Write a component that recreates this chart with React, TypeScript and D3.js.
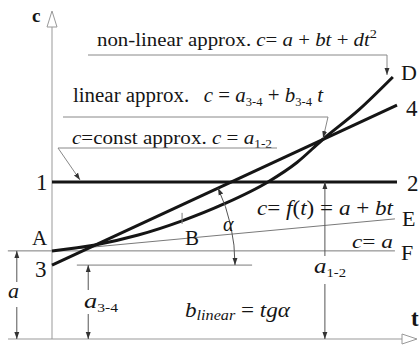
import React from "react";
import * as d3 from "d3";

const W = 419;
const H = 345;

// time axis runs over [0, 10]; concentration over [0, 10]
const tDomain = [0, 10];
const cDomain = [0, 10];

// levels
const levelA = 2.67; // c = a
const level34 = 2.24; // a_3-4
const level12 = 4.76; // a_1-2

// straight approximations, sampled at the ends
const lineT = [0, 10];
const constApprox = [level12, level12]; // c = a_1-2
const linearApprox = [level34, 7.09]; // c = a_3-4 + b_3-4 t
const tangentT = [0, 9.94];
const tangentC = [levelA, 3.64]; // c = f(t) = a + bt
const baseT = [-1.28, 9.94];
const baseC = [levelA, levelA]; // c = a

// measured concentration curve A–D
const curveT = [0, 1.25, 2.5, 3.77, 5.0, 6.26, 7.1, 7.83, 8.9, 9.88];
const curveC = [2.67, 2.85, 3.15, 3.58, 4.1, 4.76, 5.35, 6.03, 6.95, 7.94];

// dimension positions (in t)
const dimA = -1.02;
const dim34 = 1.05;
const dim12 = 7.91;
const guide34 = [0.72, 5.8];

const SERIF = "'Liberation Serif', 'Times New Roman', serif";
const INK = "#151515";
const THIN = "#7a7a7a";
const FIT = "spacingAndGlyphs";

export default function App() {
  const x = d3.scaleLinear().domain(tDomain).range([52, 397]);
  const y = d3.scaleLinear().domain(cDomain).range([339, 9]);

  const line = d3
    .line<[number, number]>()
    .x((d) => x(d[0]))
    .y((d) => y(d[1]));
  const smooth = d3
    .line<[number, number]>()
    .x((d) => x(d[0]))
    .y((d) => y(d[1]))
    .curve(d3.curveMonotoneX);

  const zip = (ts: number[], cs: number[]) =>
    ts.map((t, i) => [t, cs[i]] as [number, number]);

  const x0 = x(0);
  const yAxis = y(0);

  // angle alpha between linear approx and horizontal at a_3-4
  const cx = x(0);
  const cy = y(level34);
  const ang = Math.atan2(y(linearApprox[1]) - y(linearApprox[0]), x(10) - x(0));
  const r = 183;
  const arcPath = `M${cx + r},${cy} A${r},${r} 0 0 0 ${cx + r * Math.cos(ang)},${
    cy + r * Math.sin(ang)
  }`;

  const curveAt = (t: number) => curveC[curveT.indexOf(t)];

  return (
    <svg width={W} height={H} style={{ display: "block", position: "absolute", left: 0, top: 0 }}
      fontFamily={SERIF}>
      <defs>
        <marker id="arr" viewBox="0 0 10 10" refX="10" refY="5" markerWidth="7" markerHeight="7"
          orient="auto-start-reverse" markerUnits="userSpaceOnUse">
          <path d="M0,1.5 L10,5 L0,8.5 z" fill="#333" />
        </marker>
      </defs>
      <rect width={W} height={H} fill="#fff" />

      {/* axes */}
      <line x1={8} x2={402} y1={yAxis} y2={yAxis} stroke="#999" strokeWidth={1} />
      <polygon points={`402,${yAxis - 5} 417,${yAxis} 402,${yAxis + 5}`} fill="#fff" stroke="#999" />
      <line x1={x0} x2={x0} y1={yAxis} y2={27} stroke="#999" strokeWidth={1} />
      <polygon points={`${x0 - 5},27 ${x0},11 ${x0 + 5},27`} fill="#fff" stroke="#999" />
      <text x={32} y={22} fontSize={19} fontWeight="bold" fill={INK}>c</text>
      <text x={411} y={326} fontSize={23} fontWeight="bold" fill={INK}>t</text>

      {/* thin reference lines */}
      <path d={line(zip(baseT, baseC)) ?? ""} stroke={THIN} fill="none" strokeWidth={1} />
      <path d={line(zip(tangentT, tangentC)) ?? ""} stroke={THIN} fill="none" strokeWidth={1} />
      <line x1={x(guide34[0])} x2={x(guide34[1])} y1={y(level34)} y2={y(level34)} stroke={THIN} />

      {/* thick curves */}
      <path d={line(zip(lineT, constApprox)) ?? ""} stroke={INK} fill="none" strokeWidth={3} />
      <path d={line(zip(lineT, linearApprox)) ?? ""} stroke={INK} fill="none" strokeWidth={3} />
      <path d={smooth(zip(curveT, curveC)) ?? ""} stroke={INK} fill="none" strokeWidth={3} />

      {/* B marker */}
      <line x1={x(3.77)} x2={x(3.77)} y1={y(curveAt(3.77)) - 8} y2={y(curveAt(3.77)) + 3} stroke={THIN} />

      {/* angle alpha */}
      <path d={arcPath} fill="none" stroke="#555" strokeWidth={1}
        markerStart="url(#arr)" markerEnd="url(#arr)" />
      <text x={223} y={231} fontSize={20} fontStyle="italic" fill={INK}>α</text>

      {/* dimension arrows */}
      <line x1={x(dimA)} x2={x(dimA)} y1={y(levelA)} y2={282} stroke="#555" markerStart="url(#arr)" />
      <line x1={x(dimA)} x2={x(dimA)} y1={307} y2={yAxis} stroke="#555" markerEnd="url(#arr)" />
      <text x={8} y={298} fontSize={22} fontStyle="italic" fill={INK}>a</text>

      <line x1={x(dim34)} x2={x(dim34)} y1={y(level34)} y2={290} stroke="#555" markerStart="url(#arr)" />
      <line x1={x(dim34)} x2={x(dim34)} y1={314} y2={yAxis} stroke="#555" markerEnd="url(#arr)" />
      <text x={84} y={308} fontSize={22} fontStyle="italic" fill={INK} textLength={34} lengthAdjust={FIT}>
        a<tspan fontSize={13} fontStyle="normal" dy={4}>3-4</tspan>
      </text>

      <line x1={x(dim12)} x2={x(dim12)} y1={y(level12)} y2={256} stroke="#555" markerStart="url(#arr)" />
      <line x1={x(dim12)} x2={x(dim12)} y1={284} y2={yAxis} stroke="#555" markerEnd="url(#arr)" />
      <text x={314} y={273} fontSize={22} fontStyle="italic" fill={INK} textLength={32} lengthAdjust={FIT}>
        a<tspan fontSize={13} fontStyle="normal" dy={4}>1-2</tspan>
      </text>

      <text x={185} y={317} fontSize={20} fontStyle="italic" fill={INK} textLength={105} lengthAdjust={FIT}>
        b<tspan fontSize={14} dy={3}>linear</tspan>
        <tspan dy={-3} fontStyle="normal"> = </tspan>tgα
      </text>

      {/* point labels */}
      <text x={36} y={190} fontSize={23} fill={INK}>1</text>
      <text x={407} y={191} fontSize={23} fill={INK}>2</text>
      <text x={32} y={245} fontSize={21} fill={INK}>A</text>
      <text x={35} y={277} fontSize={23} fill={INK}>3</text>
      <text x={185} y={245} fontSize={21} fill={INK}>B</text>
      <text x={401} y={80} fontSize={22} fill={INK}>D</text>
      <text x={406} y={116} fontSize={23} fill={INK}>4</text>
      <text x={402} y={226} fontSize={22} fill={INK}>E</text>
      <text x={401} y={260} fontSize={22} fill={INK}>F</text>

      {/* formula on the tangent line */}
      <text x={257} y={215} fontSize={20} fontStyle="italic" fill={INK} textLength={136} lengthAdjust={FIT}>
        c<tspan fontStyle="normal">= </tspan>f<tspan fontStyle="normal">(</tspan>t
        <tspan fontStyle="normal">) = </tspan>a<tspan fontStyle="normal"> + </tspan>bt
      </text>
      <text x={352} y={248} fontSize={19} fontStyle="italic" fill={INK} textLength={41} lengthAdjust={FIT}>
        c<tspan fontStyle="normal">= </tspan>a
      </text>

      {/* leader: non-linear approx */}
      <text x={97} y={46} fontSize={19} fill={INK} textLength={280} lengthAdjust={FIT}>
        non-linear approx. <tspan fontStyle="italic">c</tspan>= <tspan fontStyle="italic">a</tspan> +{" "}
        <tspan fontStyle="italic">bt</tspan> + <tspan fontStyle="italic">dt</tspan>
        <tspan fontSize={13} dy={-8}>2</tspan>
      </text>
      <path d={`M88,55 H387 V75`} fill="none" stroke="#888" markerEnd="url(#arr)" />

      {/* leader: linear approx */}
      <text x={73} y={102} fontSize={20} fill={INK} textLength={250} lengthAdjust={FIT}>
        linear approx.<tspan dx={14} fontStyle="italic">c</tspan> = <tspan fontStyle="italic">a</tspan>
        <tspan fontSize={12} dy={4}>3-4</tspan><tspan dy={-4}> + </tspan>
        <tspan fontStyle="italic">b</tspan><tspan fontSize={12} dy={4}>3-4</tspan>
        <tspan dy={-4} fontStyle="italic"> t</tspan>
      </text>
      <path d={`M63,117 H328 L${x(7.83) + 1},${y(curveAt(7.83)) - 2}`} fill="none" stroke="#888"
        markerEnd="url(#arr)" />

      {/* leader: const approx */}
      <text x={72} y={144} fontSize={19} fill={INK} textLength={200} lengthAdjust={FIT}>
        <tspan fontStyle="italic">c</tspan>=const approx. <tspan fontStyle="italic">c</tspan> ={" "}
        <tspan fontStyle="italic">a</tspan><tspan fontSize={12} dy={4}>1-2</tspan>
      </text>
      <path d={`M277,148 H58 L80,${y(level12) - 2}`} fill="none" stroke="#888" markerEnd="url(#arr)" />
    </svg>
  );
}
